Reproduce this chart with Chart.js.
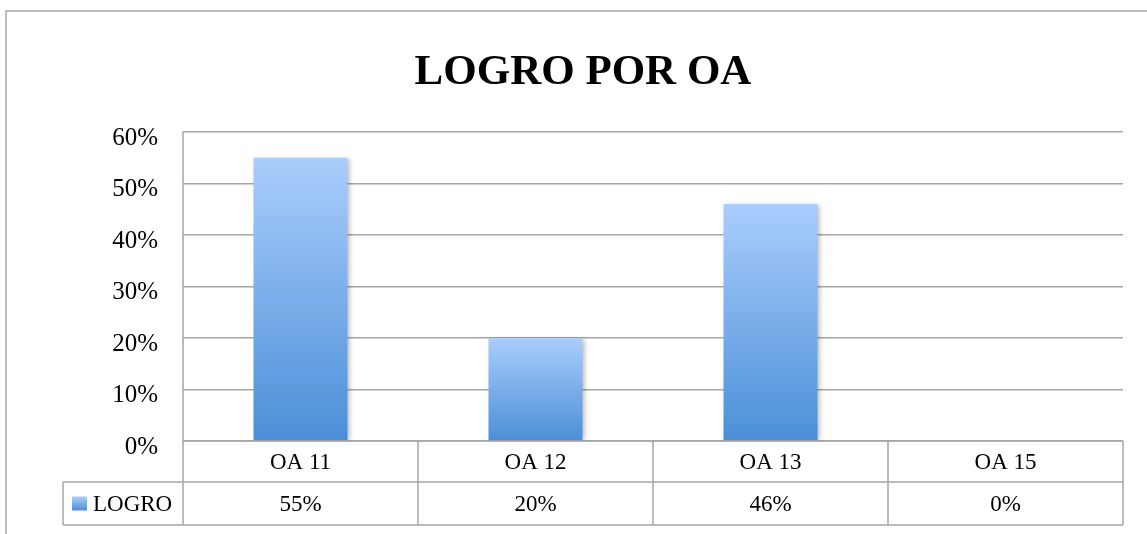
<!DOCTYPE html>
<html>
<head>
<meta charset="utf-8">
<script src="https://cdn.jsdelivr.net/npm/chart.js@4.4.0/dist/chart.umd.min.js"></script>
<style>
  html, body { margin: 0; padding: 0; background: #fff; }
  #wrap { width: 1147px; height: 534px; position: relative; }
</style>
</head>
<body>
<div id="wrap"><canvas id="logroChart" width="1147" height="534"></canvas></div>
<script>
// Data
const categories = ['OA 11', 'OA 12', 'OA 13', 'OA 15'];
const logro = [55, 20, 46, 0];
const seriesName = 'LOGRO';
const chartTitle = 'LOGRO POR OA';

const serif = "'Liberation Serif', 'DejaVu Serif', serif";
const lineGray = '#a6a6a6';

// per-bar vertical gradient, light at the top, darker at the base
function barFill(context) {
    const chart = context.chart;
    const yScale = chart.scales.y;
    if (!chart.chartArea || !yScale) return '#7fb0ec';
    const v = context.raw || 0;
    const top = yScale.getPixelForValue(v);
    const bottom = yScale.getPixelForValue(0);
    if (bottom - top < 1) return '#a9cbfa';
    const g = chart.ctx.createLinearGradient(0, top, 0, bottom);
    g.addColorStop(0, '#aacdfc');
    g.addColorStop(1, '#4b8fd8');
    return g;
}

// frame + title
const framePlugin = {
    id: 'frame',
    beforeDraw(chart) {
        const ctx = chart.ctx;
        ctx.save();
        ctx.fillStyle = '#fff';
        ctx.fillRect(0, 0, chart.width, chart.height);
        ctx.strokeStyle = lineGray;
        ctx.lineWidth = 1.5;
        ctx.beginPath();
        ctx.moveTo(6, chart.height + 2);
        ctx.lineTo(6, 11);
        ctx.lineTo(chart.width + 2, 11);
        ctx.stroke();

        ctx.fillStyle = '#000';
        ctx.font = "bold 43px " + serif;
        ctx.textAlign = 'center';
        ctx.textBaseline = 'alphabetic';
        ctx.fillText(chartTitle, 583, 84);
        ctx.restore();
    }
};

// soft shadow on the bars
const shadowPlugin = {
    id: 'barShadow',
    beforeDatasetsDraw(chart) {
        const ctx = chart.ctx;
        ctx.save();
        ctx.shadowColor = 'rgba(0,0,0,0.28)';
        ctx.shadowBlur = 5;
        ctx.shadowOffsetX = 2;
        ctx.shadowOffsetY = 1;
    },
    afterDatasetsDraw(chart) {
        chart.ctx.restore();
    }
};

// data table under the plot (category row + value row with legend key)
const tablePlugin = {
    id: 'dataTable',
    afterDraw(chart) {
        const ctx = chart.ctx;
        const area = chart.chartArea;
        const x = chart.scales.x;
        const n = categories.length;
        const colW = (area.right - area.left) / n;
        const row1Top = area.bottom;
        const row1Bot = row1Top + 41;
        const row2Bot = row1Bot + 43;
        const keyLeft = 63;

        ctx.save();
        ctx.strokeStyle = lineGray;
        ctx.lineWidth = 1.5;
        ctx.beginPath();
        // horizontals
        ctx.moveTo(area.left, row1Top); ctx.lineTo(area.right, row1Top);
        ctx.moveTo(keyLeft, row1Bot); ctx.lineTo(area.right, row1Bot);
        ctx.moveTo(keyLeft, row2Bot); ctx.lineTo(area.right, row2Bot);
        // verticals
        ctx.moveTo(keyLeft, row1Bot); ctx.lineTo(keyLeft, row2Bot);
        ctx.moveTo(area.left, area.top); ctx.lineTo(area.left, row2Bot);
        for (let i = 1; i <= n; i++) {
            const bx = area.left + colW * i;
            ctx.moveTo(bx, row1Top); ctx.lineTo(bx, row2Bot);
        }
        ctx.stroke();

        ctx.fillStyle = '#000';
        ctx.font = "23px " + serif;
        ctx.textAlign = 'center';
        ctx.textBaseline = 'middle';
        categories.forEach((c, i) => {
            const cx = x.getPixelForValue(i);
            ctx.fillText(c, cx, (row1Top + row1Bot) / 2 + 1);
            ctx.fillText(logro[i] + '%', cx, (row1Bot + row2Bot) / 2 + 1);
        });

        // legend key
        const ky = (row1Bot + row2Bot) / 2;
        const g = ctx.createLinearGradient(0, ky - 7, 0, ky + 7);
        g.addColorStop(0, '#aacdfc');
        g.addColorStop(1, '#4b8fd8');
        ctx.fillStyle = g;
        ctx.fillRect(keyLeft + 9, ky - 7, 15, 14);
        ctx.fillStyle = '#000';
        ctx.textAlign = 'left';
        ctx.fillText(seriesName, keyLeft + 30, ky + 1);
        ctx.restore();
    }
};

new Chart(document.getElementById('logroChart'), {
    type: 'bar',
    data: {
        labels: categories,
        datasets: [{
            label: seriesName,
            data: logro,
            backgroundColor: barFill,
            borderWidth: 0,
            categoryPercentage: 0.4,
            barPercentage: 1.0
        }]
    },
    options: {
        responsive: false,
        animation: false,
        devicePixelRatio: 1,
        layout: { padding: { left: 6, right: 24, top: 132, bottom: 93 } },
        plugins: {
            legend: { display: false },
            title: { display: false },
            tooltip: { enabled: false }
        },
        scales: {
            x: { display: false },
            y: {
                min: 0,
                max: 60,
                ticks: {
                    stepSize: 10,
                    padding: 25,
                    labelOffset: 6,
                    color: '#000',
                    font: { family: serif, size: 25 },
                    callback: (v) => v + '%'
                },
                grid: {
                    color: lineGray,
                    lineWidth: 1.5,
                    drawTicks: false
                },
                border: { display: false },
                afterFit(scale) { scale.width = 177; }
            }
        }
    },
    plugins: [framePlugin, shadowPlugin, tablePlugin]
});
</script>
</body>
</html>
